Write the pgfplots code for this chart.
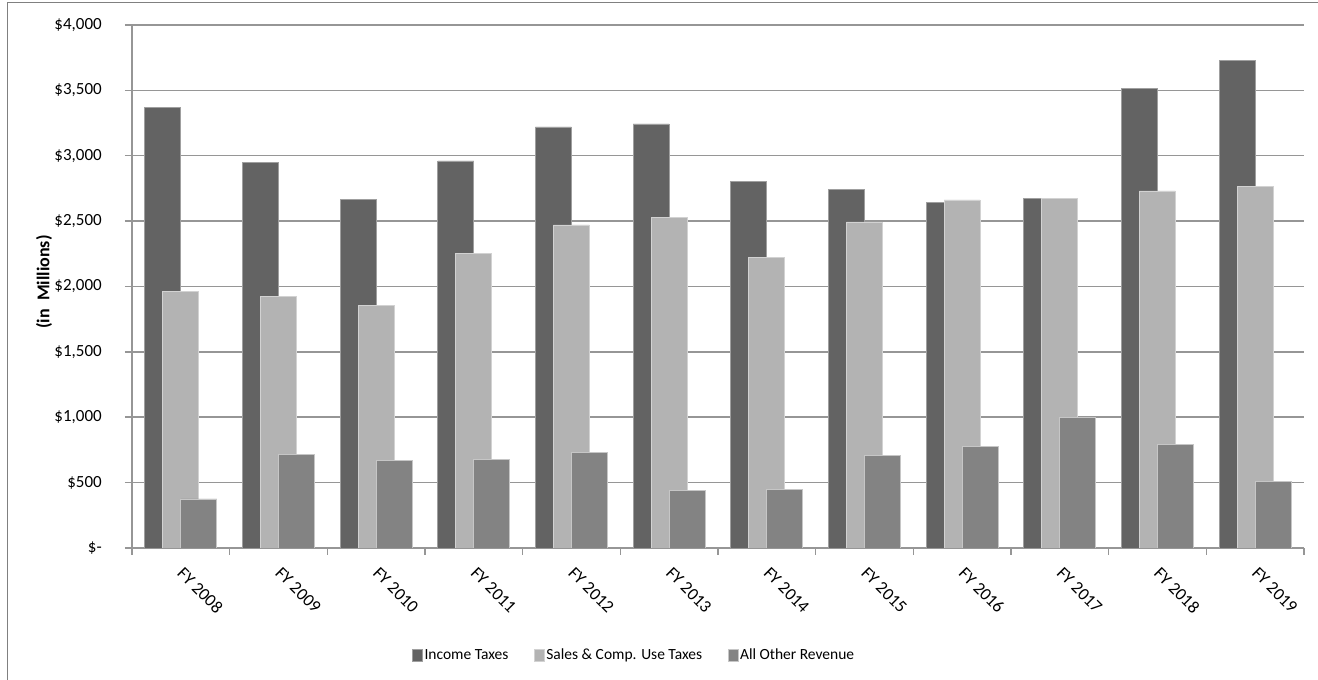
\documentclass[border=0pt]{standalone}
\usepackage{pgfplots}
\pgfplotsset{compat=1.18}
\usepackage{fontspec}
\setmainfont{Carlito}

\definecolor{income}{RGB}{99,99,99}
\definecolor{sales}{RGB}{179,179,179}
\definecolor{other}{RGB}{131,131,131}
\definecolor{gridc}{RGB}{150,150,150}

\begin{document}
\begin{tikzpicture}
\begin{axis}[
    at={(132pt,132pt)}, anchor=south west,
    scale only axis,
    width=1172pt, height=523pt,
    ybar,
    xmin=-0.5, xmax=11.5,
    ymin=0, ymax=4000,
    enlargelimits=false,
    axis x line*=bottom,
    axis y line*=left,
    axis line style={draw=gridc, line width=1.5pt},
    ymajorgrids,
    grid style={draw=gridc, line width=1.5pt},
    tick align=outside,
    ytick={0,500,1000,1500,2000,2500,3000,3500,4000},
    yticklabels={{\$-},{\$500},{\$1,000},{\$1,500},{\$2,000},{\$2,500},{\$3,000},{\$3,500},{\$4,000}},
    y tick label style={font=\fontsize{17}{20}\selectfont, anchor=east, inner sep=0pt, xshift=-23pt},
    major y tick style={draw=gridc, line width=1.5pt},
    major tick length=7pt,
    xtick={0,...,11},
    xticklabels={FY 2008,FY 2009,FY 2010,FY 2011,FY 2012,FY 2013,FY 2014,FY 2015,FY 2016,FY 2017,FY 2018,FY 2019},
    major x tick style={draw=none},
    minor xtick={-0.5,0.5,...,11.5},
    minor x tick style={draw=gridc, line width=1.5pt},
    minor tick length=7pt,
    x tick label style={font=\fontsize{17.5}{20}\selectfont, xshift=4pt, yshift=-11pt, rotate=-45, anchor=north west, inner sep=0pt},
    ylabel={\textbf{(in\ \ Millions)}},
    ylabel style={at={(axis description cs:-0.0751,0.5086)}, anchor=center, font=\fontsize{18}{20}\selectfont},
    legend style={at={(0.4283,-0.2046)}, anchor=center, draw=none,
        legend columns=3, font=\fontsize{15.5}{18}\selectfont,
        /tikz/every even column/.append style={column sep=24pt},
        nodes={inner sep=1.5pt}},
    legend image code/.code={\fill[#1] (0pt,-6pt) rectangle (10pt,6pt);},
    bar width=36pt,
]
\addplot[fill=income, draw=gray!75, line width=0.8pt, bar shift=-18pt] coordinates {
    (0,3368) (1,2947) (2,2664) (3,2960) (4,3220) (5,3243)
    (6,2800) (7,2744) (8,2641) (9,2675) (10,3516) (11,3732)};
\addplot[fill=sales, draw=gray!35, line width=0.8pt, bar shift=0pt] coordinates {
    (0,1959) (1,1923) (2,1854) (3,2254) (4,2471) (5,2527)
    (6,2219) (7,2494) (8,2662) (9,2675) (10,2731) (11,2767)};
\addplot[fill=other, draw=gray!45, line width=0.8pt, bar shift=18pt] coordinates {
    (0,375) (1,716) (2,673) (3,675) (4,733) (5,443)
    (6,451) (7,710) (8,776) (9,1001) (10,789) (11,512)};
\legend{Income Taxes, Sales \& Comp. Use Taxes, All Other Revenue}
\end{axis}
\draw[draw=gray, line width=1.5pt] (7.5pt,-20pt) -- (7.5pt,677.5pt) -- (1340pt,677.5pt);
\pgfresetboundingbox
\useasboundingbox (0pt,0pt) rectangle (1318pt,680pt);
\end{tikzpicture}
\end{document}
